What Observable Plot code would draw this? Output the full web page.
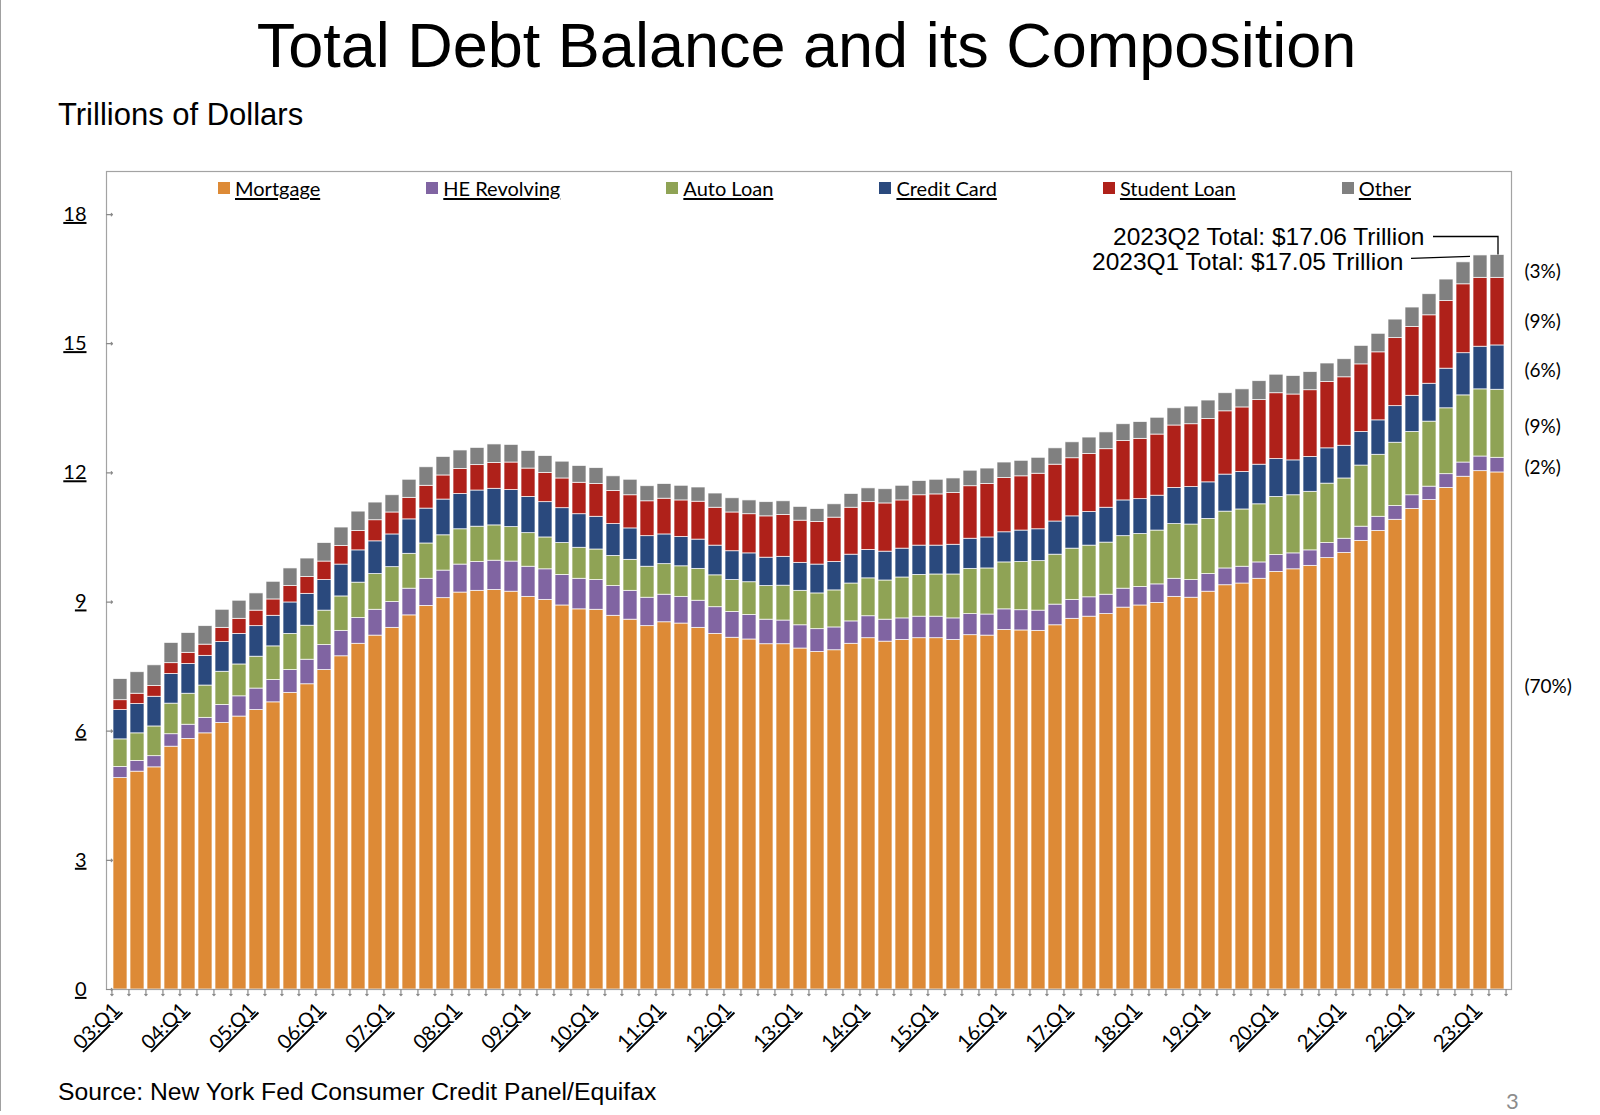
<!DOCTYPE html>
<html>
<head>
<meta charset="utf-8">
<script src="https://cdn.jsdelivr.net/npm/d3@7"></script>
<script src="https://cdn.jsdelivr.net/npm/@observablehq/plot@0.6"></script>
<style>
html, body { margin: 0; padding: 0; background: #fff; }
#page { position: relative; width: 1600px; height: 1115px; overflow: hidden; background: #fff; }
.abs { position: absolute; white-space: nowrap; line-height: 1; }
#title { left: 0; width: 1613px; text-align: center; top: 9px; font: 63px "Liberation Sans", Arial, sans-serif; color: #000; }
#subtitle { left: 58px; top: 97px; font: 31px "Liberation Sans", Arial, sans-serif; color: #000; }
#source { left: 58px; top: 1078px; font: 24.7px "Liberation Sans", Arial, sans-serif; color: #000; }
#pagenum { left: 1506px; top: 1087px; font: 22px Lato, sans-serif; color: #8c8c8c; }
#edge { left: 0; top: 0; width: 1px; height: 1111px; background: #a0a0a0; }
#chart { position: absolute; left: 0; top: 140px; }
#legend { position: absolute; left: 218px; top: 178px; width: 1193px; display: flex; justify-content: space-between; font: 20px Lato, sans-serif; line-height: 1; }
#legend .item { display: flex; align-items: center; }
#legend .sw { width: 12px; height: 12px; margin-right: 5px; }
#legend .lab { text-decoration: underline; text-underline-offset: 2px; }
#chart svg g[aria-label="y-axis tick label"] text,
#chart svg g[aria-label="x-axis tick label"] text { text-decoration: underline; }
</style>
</head>
<body>
<div id="page">
  <div id="edge" class="abs"></div>
  <div id="title" class="abs">Total Debt Balance and its Composition</div>
  <div id="subtitle" class="abs">Trillions of Dollars</div>
  <div id="chart"></div>
  <div id="legend"></div>
  <div id="source" class="abs">Source: New York Fed Consumer Credit Panel/Equifax</div>
  <div id="pagenum" class="abs">3</div>
</div>
<script>
// ---------------- data ----------------
const categories = ["Mortgage", "HE Revolving", "Auto Loan", "Credit Card", "Student Loan", "Other"];
const colors = ["#DD8A36", "#8064A2", "#8FA355", "#2A497D", "#AF211A", "#808080"];

const years = ["03","04","05","06","07","08","09","10","11","12","13","14","15","16","17","18","19","20","21","22","23"];
const quarterNames = ["Q1","Q2","Q3","Q4"];
const quarters = years.flatMap(y => quarterNames.map(q => `${y}:${q}`)).slice(0, 82);

const mortgage = [
  4.91, 5.06, 5.16, 5.64,  5.82, 5.95, 6.19, 6.34,  6.49, 6.67, 6.89, 7.09,
  7.42, 7.74, 8.03, 8.22,  8.40, 8.69, 8.91, 9.09,  9.22, 9.26, 9.28, 9.24,
  9.12, 9.05, 8.92, 8.83,  8.82, 8.68, 8.59, 8.44,  8.53, 8.50, 8.40, 8.26,
  8.17, 8.13, 8.02, 8.02,  7.92, 7.84, 7.88, 8.03,  8.16, 8.08, 8.12, 8.16,
  8.16, 8.12, 8.23, 8.22,  8.35, 8.34, 8.33, 8.46,  8.61, 8.66, 8.72, 8.87,
  8.92, 8.98, 9.12, 9.10,  9.24, 9.39, 9.43, 9.54,  9.70, 9.76, 9.84, 10.02,
  10.14, 10.42, 10.65, 10.91,  11.16, 11.37, 11.65, 11.91,  12.04, 12.01
];
const heRevolving = [
  0.26, 0.25, 0.26, 0.29,  0.33, 0.36, 0.42, 0.47,  0.50, 0.52, 0.53, 0.57,
  0.58, 0.59, 0.60, 0.60,  0.60, 0.62, 0.63, 0.64,  0.65, 0.67, 0.68, 0.70,
  0.70, 0.71, 0.71, 0.71,  0.69, 0.69, 0.67, 0.66,  0.64, 0.62, 0.63, 0.62,
  0.60, 0.57, 0.57, 0.55,  0.54, 0.53, 0.53, 0.52,  0.51, 0.51, 0.50, 0.50,
  0.50, 0.50, 0.49, 0.49,  0.48, 0.47, 0.47, 0.48,  0.44, 0.45, 0.45, 0.44,
  0.43, 0.43, 0.42, 0.41,  0.41, 0.39, 0.39, 0.38,  0.39, 0.37, 0.36, 0.35,
  0.33, 0.33, 0.33, 0.32,  0.32, 0.31, 0.32, 0.33,  0.34, 0.34
];
const autoLoan = [
  0.64, 0.64, 0.69, 0.71,  0.72, 0.75, 0.77, 0.74,  0.74, 0.78, 0.84, 0.79,
  0.80, 0.80, 0.82, 0.83,  0.81, 0.81, 0.82, 0.82,  0.82, 0.82, 0.82, 0.80,
  0.78, 0.74, 0.74, 0.72,  0.71, 0.70, 0.72, 0.72,  0.71, 0.71, 0.74, 0.74,
  0.74, 0.76, 0.78, 0.81,  0.80, 0.83, 0.86, 0.88,  0.88, 0.91, 0.95, 0.97,
  0.98, 1.02, 1.05, 1.07,  1.09, 1.12, 1.15, 1.16,  1.19, 1.20, 1.21, 1.22,
  1.23, 1.25, 1.27, 1.29,  1.28, 1.32, 1.33, 1.35,  1.35, 1.35, 1.36, 1.38,
  1.40, 1.42, 1.44, 1.47,  1.47, 1.51, 1.53, 1.56,  1.56, 1.58
];
const creditCard = [
  0.68, 0.68, 0.69, 0.69,  0.69, 0.69, 0.69, 0.71,  0.71, 0.71, 0.73, 0.74,
  0.71, 0.74, 0.75, 0.76,  0.76, 0.80, 0.81, 0.83,  0.82, 0.84, 0.85, 0.86,
  0.84, 0.82, 0.81, 0.78,  0.76, 0.74, 0.73, 0.71,  0.69, 0.68, 0.68, 0.69,
  0.67, 0.67, 0.66, 0.67,  0.65, 0.67, 0.66, 0.67,  0.66, 0.67, 0.67, 0.68,
  0.67, 0.69, 0.70, 0.72,  0.70, 0.73, 0.74, 0.77,  0.75, 0.78, 0.81, 0.83,
  0.81, 0.81, 0.84, 0.87,  0.85, 0.86, 0.87, 0.92,  0.88, 0.81, 0.81, 0.82,
  0.76, 0.78, 0.80, 0.85,  0.84, 0.88, 0.92, 0.98,  0.99, 1.03
];
const studentLoan = [
  0.23, 0.24, 0.25, 0.25,  0.26, 0.26, 0.33, 0.35,  0.36, 0.38, 0.38, 0.39,
  0.43, 0.43, 0.45, 0.49,  0.51, 0.50, 0.53, 0.56,  0.58, 0.59, 0.60, 0.64,
  0.66, 0.68, 0.69, 0.73,  0.76, 0.77, 0.77, 0.81,  0.83, 0.85, 0.88, 0.88,
  0.90, 0.91, 0.96, 0.97,  0.98, 0.99, 1.03, 1.09,  1.11, 1.12, 1.12, 1.17,
  1.19, 1.20, 1.22, 1.24,  1.26, 1.26, 1.29, 1.32,  1.35, 1.35, 1.36, 1.38,
  1.40, 1.42, 1.45, 1.46,  1.47, 1.47, 1.50, 1.50,  1.53, 1.53, 1.55, 1.54,
  1.59, 1.57, 1.58, 1.58,  1.60, 1.59, 1.57, 1.60,  1.60, 1.57
];
const other = [
  0.49, 0.50, 0.48, 0.47,  0.46, 0.43, 0.42, 0.42,  0.40, 0.41, 0.41, 0.43,
  0.43, 0.43, 0.45, 0.41,  0.40, 0.42, 0.43, 0.43,  0.43, 0.40, 0.43, 0.41,
  0.41, 0.39, 0.39, 0.39,  0.37, 0.34, 0.36, 0.35,  0.34, 0.34, 0.33, 0.33,
  0.33, 0.32, 0.33, 0.32,  0.32, 0.30, 0.31, 0.32,  0.32, 0.33, 0.34, 0.33,
  0.34, 0.34, 0.36, 0.36,  0.36, 0.36, 0.37, 0.38,  0.37, 0.38, 0.39, 0.39,
  0.39, 0.39, 0.40, 0.41,  0.43, 0.42, 0.42, 0.44,  0.43, 0.43, 0.42, 0.43,
  0.42, 0.43, 0.43, 0.43,  0.45, 0.49, 0.50, 0.51,  0.52, 0.53
];
const yTicks = [0, 3, 6, 9, 12, 15, 18];
const labelQuarters = quarters.filter(q => q.endsWith("Q1"));
const annotationQuarters = ["23:Q2", "23:Q1"];
const annotationNames = ["2023Q2", "2023Q1"];

// ---------------- build ----------------
const series = [mortgage, heRevolving, autoLoan, creditCard, studentLoan, other];
const long = [];
quarters.forEach((q, i) => categories.forEach((c, k) => long.push({quarter: q, category: c, value: series[k][i]})));
const totalOf = q => { const i = quarters.indexOf(q); return d3.sum(series, s => s[i]); };

const lastQ = quarters[quarters.length - 1];
const lastIdx = quarters.length - 1;
let cum = 0;
const shares = categories.map((c, k) => {
  const v = series[k][lastIdx];
  const mid = cum + v / 2; cum += v;
  return {category: c, mid, label: `(${Math.round(100 * v / totalOf(lastQ))}%)`};
});

const W = 1600, H = 920, ML = 106, MR = 89, MT = 31, MB = 71;
const step = (W - ML - MR) / quarters.length;

const shareMark = (cats, dy) => Plot.text(shares.filter(d => cats.includes(d.category)), {
  x: () => lastQ, y: "mid", text: "label", dx: 27, dy, textAnchor: "start",
  fontSize: 19, fill: "#000", fontFamily: "Lato, sans-serif"
});

const chart = Plot.plot({
  width: W, height: H,
  marginLeft: ML, marginRight: MR, marginTop: MT, marginBottom: MB,
  style: {fontFamily: "Lato, sans-serif", background: "transparent", overflow: "visible"},
  x: {type: "band", domain: quarters, paddingInner: 0.16, paddingOuter: 0.08, axis: null, label: null},
  y: {domain: [0, 19], axis: null, label: null},
  color: {domain: categories, range: colors},
  marks: [
    Plot.barY(long, {x: "quarter", y: "value", fill: "category", stroke: "#ffffff", strokeWidth: 0.8, strokeOpacity: 0.85}),
    Plot.frame({stroke: "#a3a3a3", strokeWidth: 1.2}),
    Plot.vector(yTicks, {y: d => d, frameAnchor: "left", rotate: 90, length: 6, anchor: "start", stroke: "#8a8a8a", strokeWidth: 1.2}),
    Plot.axisY(yTicks, {anchor: "left", tickSize: 0, tickPadding: 20, fontSize: 20, fill: "#000", fontFamily: "Lato, sans-serif", label: null}),
    Plot.vector(quarters, {x: d => d, frameAnchor: "bottom", rotate: 180, length: 6, anchor: "start", dx: -step / 2, stroke: "#8a8a8a", strokeWidth: 1.2}),
    Plot.vector([lastQ], {x: d => d, frameAnchor: "bottom", rotate: 180, length: 6, anchor: "start", dx: step / 2, stroke: "#8a8a8a", strokeWidth: 1.2}),
    Plot.axisX(labelQuarters, {anchor: "bottom", tickSize: 0, tickPadding: 17, dx: -4, tickRotate: -45, fontSize: 20, fill: "#000", fontFamily: "Lato, sans-serif", label: null}),
    shareMark(["Other"], 5),
    shareMark(["Student Loan"], 10),
    shareMark(["Credit Card", "Auto Loan", "HE Revolving"], 3),
    shareMark(["Mortgage"], -44),
    Plot.text([0], {x: () => annotationQuarters[0], y: () => totalOf(annotationQuarters[0]), text: () => `${annotationNames[0]} Total: $${totalOf(annotationQuarters[0]).toFixed(2)} Trillion`, dx: -73, dy: -18, textAnchor: "end", fontSize: 24.5, fill: "#000", fontFamily: "Liberation Sans, Arial, sans-serif"}),
    Plot.text([0], {x: () => annotationQuarters[1], y: () => totalOf(annotationQuarters[1]), text: () => `${annotationNames[1]} Total: $${totalOf(annotationQuarters[1]).toFixed(2)} Trillion`, dx: -77, dy: 7, textAnchor: "end", fontSize: 24.5, fill: "#000", fontFamily: "Liberation Sans, Arial, sans-serif"})
  ]
});
document.getElementById("chart").appendChild(chart);

// leader lines, through Plot's scales
const xs = chart.scale("x"), ys = chart.scale("y");
const xc = q => xs.apply(q) + xs.bandwidth / 2;
const svg = d3.select(chart);
const yQ2 = ys.apply(totalOf(annotationQuarters[0]));
const yQ1 = ys.apply(totalOf(annotationQuarters[1]));
svg.append("path")
  .attr("d", `M${xc(annotationQuarters[0]) - 64},${yQ2 - 18}H${xc(annotationQuarters[0]) + 1}V${yQ2}`)
  .attr("fill", "none").attr("stroke", "#000").attr("stroke-width", 1.3);
svg.append("path")
  .attr("d", `M${xc(annotationQuarters[1]) - 69},${yQ1 + 3.5}L${xs.apply(annotationQuarters[1]) - 3},${yQ1 + 1.5}`)
  .attr("fill", "none").attr("stroke", "#000").attr("stroke-width", 1.3);

// legend
const legend = d3.select("#legend");
categories.forEach((c, k) => {
  const it = legend.append("div").attr("class", "item");
  it.append("div").attr("class", "sw").style("background", colors[k]);
  it.append("span").attr("class", "lab").text(c);
});
</script>
</body>
</html>
